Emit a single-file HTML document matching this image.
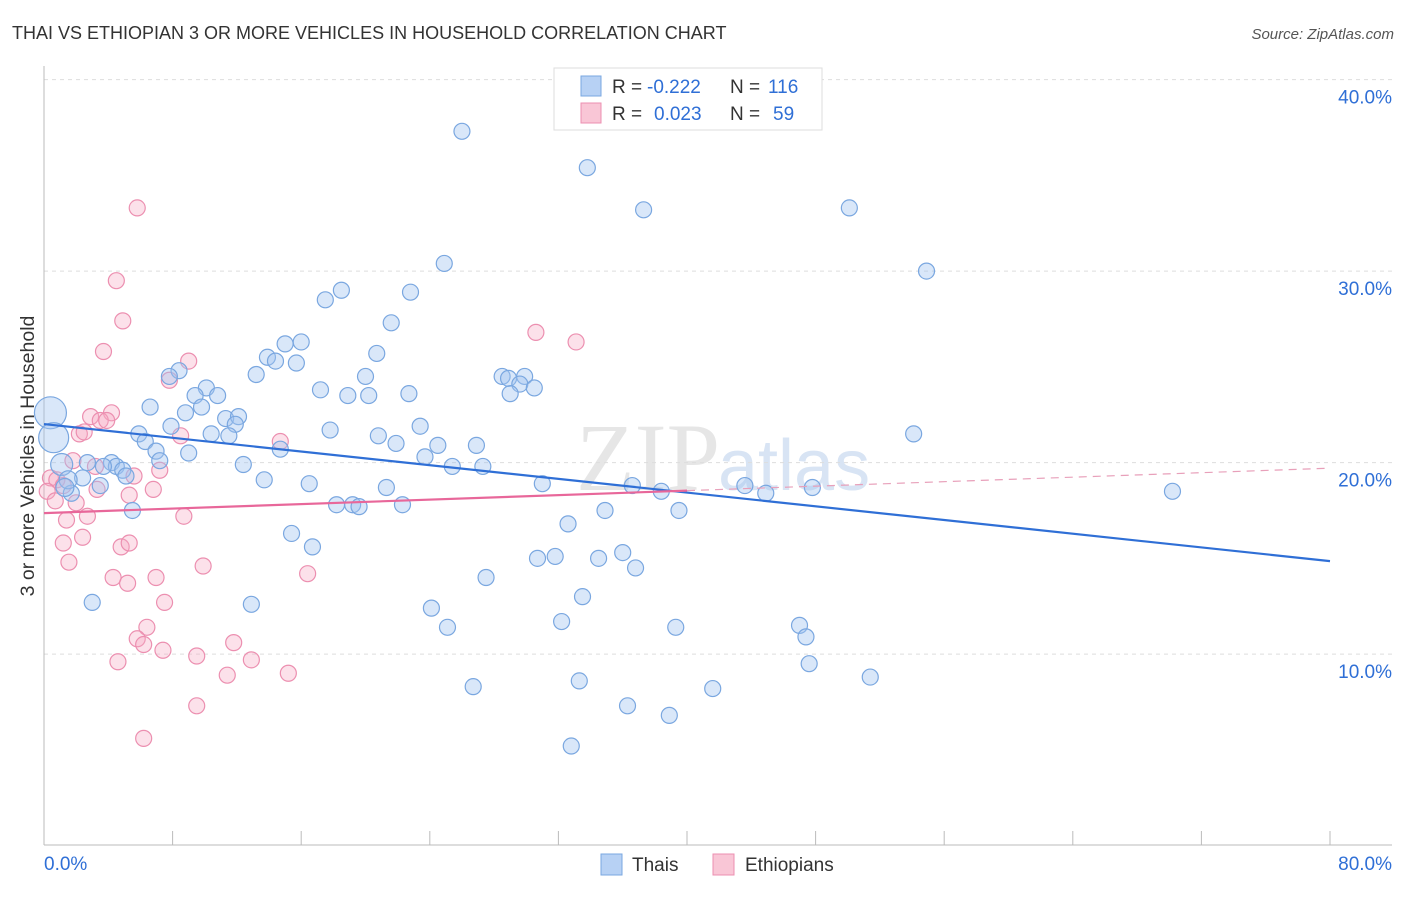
<!DOCTYPE html>
<html><head><meta charset="utf-8"><style>
body{margin:0;background:#fff;font-family:"Liberation Sans",sans-serif}
</style></head><body>
<svg id="c" width="1406" height="892" xmlns="http://www.w3.org/2000/svg">
<text x="12" y="39" font-size="18" fill="#333">THAI VS ETHIOPIAN 3 OR MORE VEHICLES IN HOUSEHOLD CORRELATION CHART</text>
<text x="1394" y="39" font-size="15" fill="#555" font-style="italic" text-anchor="end">Source: ZipAtlas.com</text>
<text x="720" y="490" font-size="96" fill="#e6e6e6" font-family="Liberation Serif" text-anchor="end">ZIP</text>
<text x="718" y="490" font-size="72" fill="#d8e4f4">atlas</text>
<g id="grid"></g><g id="axes"></g><g id="pts"></g><g id="trend"></g>
<text transform="translate(34,456) rotate(-90)" font-size="19.5" fill="#333" text-anchor="middle">3 or more Vehicles in Household</text>
<g>
<rect x="554" y="68" width="268" height="62" fill="#fff" stroke="#ddd"/>
<rect x="581" y="76" width="20" height="20" fill="#b7d1f4" stroke="#7aa7e0"/>
<rect x="581" y="103" width="20" height="20" fill="#f9c6d6" stroke="#ec8fb0"/>
<text x="612" y="93" font-size="19" fill="#333">R =</text>
<text x="647" y="93" font-size="19" fill="#2f6fd6">-0.222</text>
<text x="730" y="93" font-size="19" fill="#333">N =</text>
<text x="768" y="93" font-size="19" fill="#2f6fd6">116</text>
<text x="612" y="120" font-size="19" fill="#333">R =</text>
<text x="654" y="120" font-size="19" fill="#2f6fd6">0.023</text>
<text x="730" y="120" font-size="19" fill="#333">N =</text>
<text x="773" y="120" font-size="19" fill="#2f6fd6">59</text>
</g>
<g>
<rect x="601" y="854" width="21" height="21" fill="#b7d1f4" stroke="#7aa7e0"/>
<text x="632" y="871" font-size="19" fill="#333">Thais</text>
<rect x="713" y="854" width="21" height="21" fill="#f9c6d6" stroke="#ec8fb0"/>
<text x="745" y="871" font-size="19" fill="#333">Ethiopians</text>
</g>
</svg>
<script>
const thaiX=[26.0,33.8,37.3,50.1,54.9,24.9,18.5,17.5,22.8,21.6,15.0,16.0,20.7,13.9,14.4,15.7,13.2,8.4,7.8,20.0,28.5,29.9,28.9,29.6,30.5,29.0,10.1,17.2,18.9,20.2,22.7,9.4,10.8,9.8,6.6,8.8,11.3,12.1,11.9,23.4,7.9,17.8,5.9,10.4,11.5,20.8,54.1,6.3,21.9,24.5,26.9,6.97,14.7,9.0,23.7,7.2,25.4,27.3,4.2,2.7,4.5,3.7,4.9,5.1,12.4,13.7,2.4,3.5,1.7,16.5,21.3,31.0,36.6,38.4,43.6,44.9,47.8,70.2,18.2,19.2,19.6,22.3,34.9,39.5,5.5,32.6,15.4,16.7,36.0,30.7,31.8,34.5,36.8,27.5,3.0,12.9,33.5,24.1,25.1,32.2,39.3,47.0,47.4,47.6,51.4,26.7,33.3,41.6,36.3,38.9,32.8,0.4,0.6,1.1,1.5,1.3];
const thaiY=[37.3,35.4,33.2,33.3,30.0,30.4,29.0,28.5,28.9,27.3,26.2,26.3,25.7,25.5,25.3,25.2,24.6,24.8,24.5,24.5,24.5,24.5,24.4,24.1,23.9,23.6,23.9,23.8,23.5,23.5,23.6,23.5,23.5,22.9,22.9,22.6,22.3,22.4,22.0,21.9,21.9,21.7,21.5,21.5,21.4,21.4,21.5,21.1,21.0,20.9,20.9,20.6,20.7,20.5,20.3,20.1,19.8,19.8,20.0,20.0,19.8,19.8,19.6,19.3,19.9,19.1,19.2,18.8,18.4,18.9,18.7,18.9,18.8,18.5,18.8,18.4,18.7,18.5,17.8,17.8,17.7,17.8,17.5,17.5,17.5,16.8,16.3,15.6,15.3,15.0,15.1,15.0,14.5,14.0,12.7,12.6,13.0,12.4,11.4,11.7,11.4,11.5,10.9,9.5,8.8,8.3,8.6,8.2,7.3,6.8,5.2,22.6,21.3,19.9,19.1,18.7];
const thaiR=[];for(let i=0;i<thaiX.length;i++)thaiR.push(i>=111?(i==111?16:i==112?15:i==113?11:9):8);
const ethX=[5.8,4.5,4.9,30.6,33.1,3.7,9.0,7.8,4.2,2.9,3.5,3.9,2.2,2.5,8.5,14.7,1.8,3.2,5.6,7.2,0.4,0.8,1.2,0.2,3.3,2.0,0.7,5.3,6.8,8.7,2.7,1.4,2.4,1.2,4.8,5.3,1.55,9.9,16.4,4.3,6.97,5.2,7.5,6.4,5.8,6.2,7.4,11.8,9.5,12.9,4.6,11.4,15.2,9.5,6.2];
const ethY=[33.3,29.5,27.4,26.8,26.3,25.8,25.3,24.3,22.6,22.4,22.2,22.2,21.5,21.6,21.4,21.1,20.1,19.8,19.3,19.6,19.2,19.1,18.8,18.5,18.6,17.9,18.0,18.3,18.6,17.2,17.2,17.0,16.1,15.8,15.6,15.8,14.8,14.6,14.2,14.0,14.0,13.7,12.7,11.4,10.8,10.5,10.2,10.6,9.9,9.7,9.6,8.9,9.0,7.3,5.6];
const yTicks=[10,20,30,40];
const xTickLabels=["0.0%","80.0%"];
const NS="http://www.w3.org/2000/svg";
const X=v=>44+v*16.075, Y=v=>845.6-v*19.15;
function mk(t,a,p){const e=document.createElementNS(NS,t);for(const k in a)e.setAttribute(k,a[k]);p.appendChild(e);return e;}
const grid=document.getElementById('grid'),axes=document.getElementById('axes'),pts=document.getElementById('pts'),tr=document.getElementById('trend');
yTicks.forEach(t=>{const l=mk('line',{x1:44,x2:1392,y1:Y(t),y2:Y(t),stroke:'#ddd','stroke-dasharray':'4,4'},grid);

const tx=mk('text',{x:1392,y:Y(t)+24,'font-size':19,fill:'#2f6fd6','text-anchor':'end'},axes);tx.textContent=t.toFixed(1)+'%';
});
const ax=mk('line',{x1:44,x2:1392,y1:845,y2:845,stroke:'#bbb'},axes);
const ay=mk('line',{x1:44,x2:44,y1:66,y2:845,stroke:'#bbb'},axes);
for(let i=1;i<=10;i++){const t=mk('line',{x1:X(i*8),x2:X(i*8),y1:831,y2:845,stroke:'#bbb'},axes);}
const l0=mk('text',{x:44,y:870,'font-size':19,fill:'#2f6fd6'},axes);l0.textContent=xTickLabels[0];
const l1=mk('text',{x:1392,y:870,'font-size':19,fill:'#2f6fd6','text-anchor':'end'},axes);l1.textContent=xTickLabels[1];
ethX.forEach((v,i)=>{const c=mk('circle',{cx:X(v),cy:Y(ethY[i]),r:8,fill:'rgba(245,170,195,0.35)',stroke:'#ec8fb0','stroke-width':1.2},pts);
});
thaiX.forEach((v,i)=>{const c=mk('circle',{cx:X(v),cy:Y(thaiY[i]),r:thaiR[i],fill:'rgba(160,195,240,0.4)',stroke:'#7aa7e0','stroke-width':1.2},pts);
});
function fit(xs,ys){const n=xs.length;let mx=0,my=0;xs.forEach((x,i)=>{mx+=x;my+=ys[i];});mx/=n;my/=n;let sxy=0,sxx=0;xs.forEach((x,i)=>{sxy+=(x-mx)*(ys[i]-my);sxx+=(x-mx)**2;});const b=sxy/sxx;return [my-b*mx,b];}
const [ta,tb]=fit(thaiX,thaiY);
const t1=mk('line',{x1:X(0),y1:Y(ta),x2:X(80),y2:Y(ta+tb*80),stroke:'#2f6fd6','stroke-width':2.2},tr);
const [ea,eb]=fit(ethX,ethY);
const e1=mk('line',{x1:X(0),y1:Y(ea),x2:X(40),y2:Y(ea+eb*40),stroke:'#e8679a','stroke-width':2.2},tr);
const e2=mk('line',{x1:X(40),y1:Y(ea+eb*40),x2:X(80),y2:Y(ea+eb*80),stroke:'#e8a0ba','stroke-width':1.2,'stroke-dasharray':'8,6'},tr);
</script>
</body></html>
